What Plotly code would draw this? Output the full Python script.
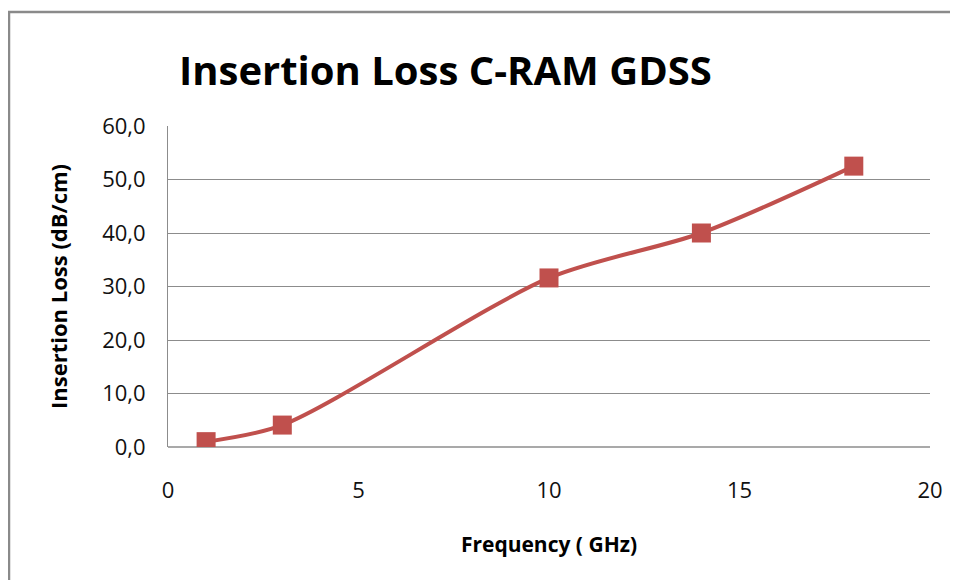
import plotly.graph_objects as go

frequency_ghz = [1, 3, 10, 14, 18]
insertion_loss = [1.0, 4.1, 31.6, 40.0, 52.5]
y_tick_vals = [0, 10, 20, 30, 40, 50, 60]
y_tick_text = ["0,0", "10,0", "20,0", "30,0", "40,0", "50,0", "60,0"]
x_tick_vals = [0, 5, 10, 15, 20]

FONT = "Open Sans"
RED = "#C0504D"

# page has an 8px body margin; figure coords = screen coords - 8
OFF = 8
W, H = 950, 572
L, T = 168 - OFF, 126 - OFF
R = W - (930 - OFF)
B = H - (447 - OFF)
pw = W - L - R
ph = H - T - B

def px(x):
    return (x - OFF - L) / pw

def py(y):
    return (H - B - (y - OFF)) / ph

fig = go.Figure()
fig.add_trace(go.Scatter(
    x=frequency_ghz, y=insertion_loss, mode="lines+markers",
    line=dict(color=RED, width=4, shape="spline", smoothing=0.8),
    marker=dict(symbol="square", size=19, color=RED, line=dict(width=0)),
    showlegend=False,
))

fig.update_layout(
    width=W, height=H,
    margin=dict(l=L, r=R, t=T, b=B),
    paper_bgcolor="white", plot_bgcolor="white",
    font=dict(family=FONT, color="#000000"),
    xaxis=dict(
        range=[0, 20], tickvals=x_tick_vals, showgrid=False, zeroline=False,
        showline=False, ticks="", tickfont=dict(size=22, color="#111"),
        ticklabelstandoff=28,
        title=dict(text="<b>Frequency ( GHz)</b>", font=dict(size=21), standoff=34),
    ),
    yaxis=dict(
        range=[0, 60], tickvals=y_tick_vals, ticktext=y_tick_text,
        showgrid=True, gridcolor="#8c8c8c", gridwidth=1, zeroline=False,
        showline=True, linecolor="#8c8c8c", linewidth=1, ticks="",
        tickfont=dict(size=22, color="#111"), ticklabelstandoff=17,
        title=dict(text="<b>Insertion Loss (dB/cm)</b>", font=dict(size=22), standoff=28),
    ),
    annotations=[dict(
        text="<b>Insertion Loss C-RAM GDSS</b>", xref="paper", yref="paper",
        x=px(445), y=py(70), xanchor="center", yanchor="middle", showarrow=False,
        font=dict(size=40, family=FONT, color="#000"),
    )],
    shapes=[
        dict(type="rect", xref="paper", yref="paper",
             x0=px(9), x1=px(1000), y0=py(640), y1=py(12),
             line=dict(color="#8a8a8a", width=2.5), fillcolor="rgba(0,0,0,0)", layer="below"),
        dict(type="line", xref="paper", yref="paper", x0=0, x1=1, y0=0, y1=0,
             line=dict(color="#8c8c8c", width=1.5), layer="below"),
    ],
)

fig.write_html("out.html")
